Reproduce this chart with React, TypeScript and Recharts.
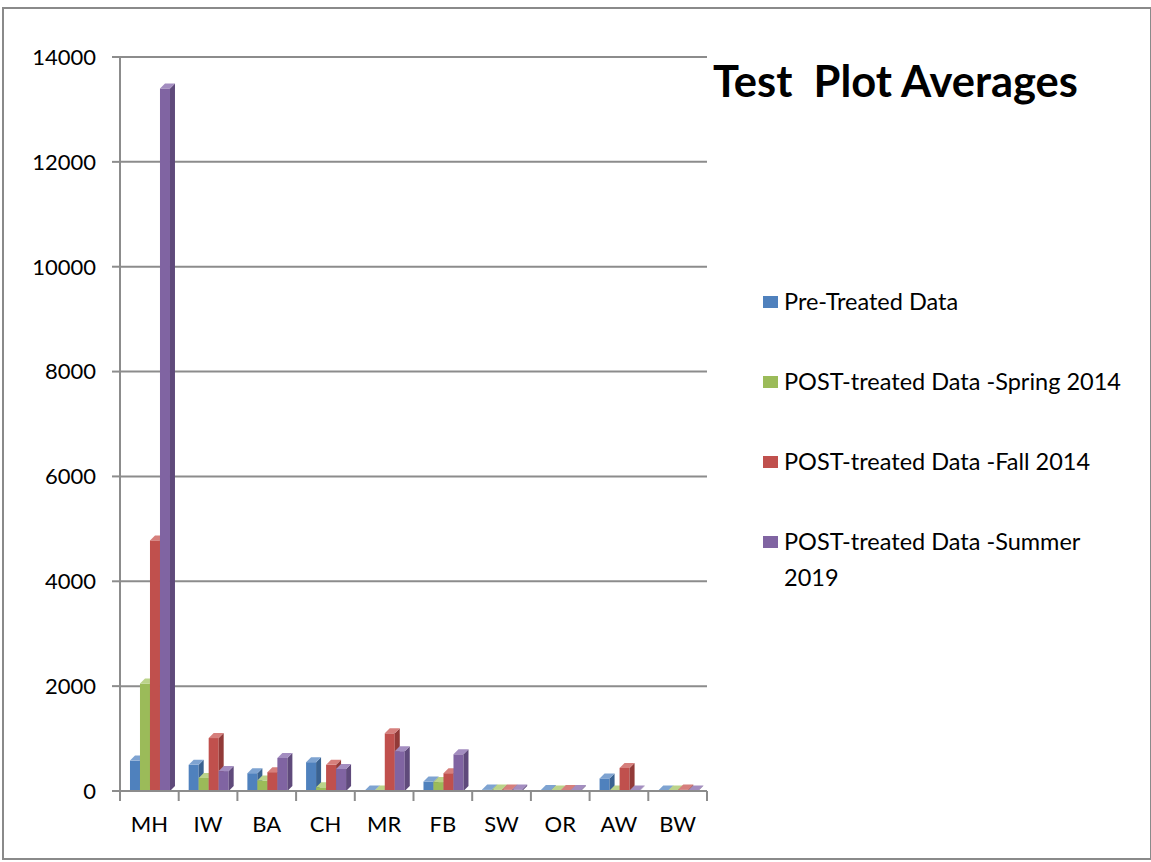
import { BarChart, Bar, XAxis, YAxis, CartesianGrid } from 'recharts';

const categories = ['MH', 'IW', 'BA', 'CH', 'MR', 'FB', 'SW', 'OR', 'AW', 'BW'];
const preTreated = [580, 500, 340, 550, 10, 180, 30, 20, 240, 10];
const spring2014 = [2050, 250, 200, 70, 10, 170, 30, 10, 10, 10];
const fall2014 = [4780, 1010, 360, 500, 1100, 340, 30, 20, 440, 30];
const summer2019 = [13400, 380, 630, 420, 760, 700, 30, 20, 10, 10];
const yTicks = [0, 2000, 4000, 6000, 8000, 10000, 12000, 14000];

const seriesList = [
  { key: 'pre', name: 'Pre-Treated Data', color: '#4F81BD', side: '#3A6291', top: '#7EA3D1' },
  { key: 'spring', name: 'POST-treated Data -Spring 2014', color: '#9BBB59', side: '#748E41', top: '#BBD38A' },
  { key: 'fall', name: 'POST-treated Data -Fall 2014', color: '#C0504D', side: '#923A38', top: '#D67F7C' },
  { key: 'summer', name: 'POST-treated Data -Summer 2019', color: '#8064A2', side: '#5F4A7B', top: '#A38DC0' },
];

const data = categories.map((c, i) => ({
  cat: c,
  pre: preTreated[i],
  spring: spring2014[i],
  fall: fall2014[i],
  summer: summer2019[i],
}));

const FONT = 'Lato, Calibri, sans-serif';
const D = 5; // 3d depth

function make3D(color: string, side: string, top: string) {
  return (props: any) => {
    const { x, y, width, height } = props;
    if (width == null || height == null) return null;
    const h = Math.max(height, 0.5);
    const yy = y + height - h;
    return (
      <g>
        <rect x={x} y={yy} width={width} height={h} fill={color} />
        <polygon
          points={`${x + width},${yy} ${x + width + D},${yy - D} ${x + width + D},${yy + h - D} ${x + width},${yy + h}`}
          fill={side}
        />
        <polygon
          points={`${x},${yy} ${x + D},${yy - D} ${x + width + D},${yy - D} ${x + width},${yy}`}
          fill={top}
        />
      </g>
    );
  };
}

const PLOT_W = 587;
const HALF_BAND = PLOT_W / categories.length / 2;

const XTick = (props: any) => {
  const { x, y, payload, index } = props;
  return (
    <g>
      <line x1={x - HALF_BAND} y1={y - 8} x2={x - HALF_BAND} y2={y + 2} stroke="#8c8c8c" strokeWidth={2} />
      {index === categories.length - 1 && (
        <line x1={x + HALF_BAND} y1={y - 8} x2={x + HALF_BAND} y2={y + 2} stroke="#8c8c8c" strokeWidth={2} />
      )}
      <text x={x} y={y + 33} textAnchor="middle" fontSize={22} fontFamily={FONT} fill="#000">
        {payload.value}
      </text>
    </g>
  );
};

export default function App() {
  return (
    <div
      style={{
        position: 'absolute',
        left: 2,
        top: 7,
        width: 1146,
        height: 849,
        border: '2px solid #8a8a8a',
        background: '#fff',
        fontFamily: FONT,
      }}
    >
      <BarChart
        width={730}
        height={849}
        data={data}
        margin={{ top: 48, right: 27, left: 16, bottom: 27 }}
        barCategoryGap="17%"
        barGap={0}
      >
        <CartesianGrid vertical={false} stroke="#8c8c8c" strokeWidth={2} />
        <XAxis
          dataKey="cat"
          height={40}
          stroke="#8c8c8c"
          strokeWidth={2}
          tickLine={false}
          tick={<XTick />}
          interval={0}
        />
        <YAxis
          width={100}
          domain={[0, 14000]}
          ticks={yTicks}
          stroke="#8c8c8c"
          strokeWidth={2}
          tickSize={8}
          tickMargin={16}
          tick={{ fontSize: 22, fontFamily: FONT, fill: '#000' }}
        />
        {seriesList.map((s) => (
          <Bar
            key={s.key}
            dataKey={s.key}
            name={s.name}
            fill={s.color}
            isAnimationActive={false}
            shape={make3D(s.color, s.side, s.top)}
          />
        ))}
      </BarChart>
      <div
        style={{
          position: 'absolute',
          left: 709,
          top: 45,
          fontSize: 43.5,
          fontWeight: 700,
          whiteSpace: 'pre',
          color: '#000',
        }}
      >
        Test  Plot Averages
      </div>
      <div style={{ position: 'absolute', left: 759, top: 274, width: 390 }}>
        {seriesList.map((s) => (
          <div key={s.key} style={{ display: 'flex', alignItems: 'flex-start', height: 80, fontSize: 23.5 }}>
            <div style={{ width: 15, height: 12, background: s.color, marginTop: 13, marginRight: 6, flex: 'none' }} />
            <div style={{ lineHeight: '36px', color: '#000', width: 345 }}>{s.name}</div>
          </div>
        ))}
      </div>
    </div>
  );
}
